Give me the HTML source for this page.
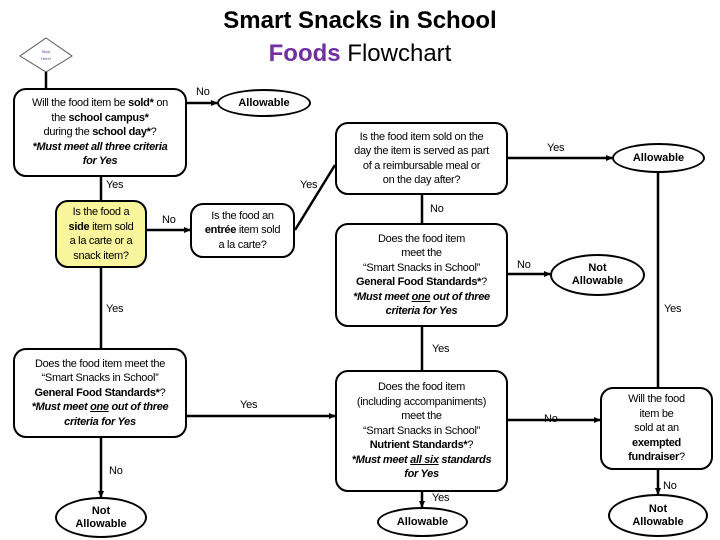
<!DOCTYPE html>
<html><head><meta charset="utf-8"><style>
body{margin:0;width:720px;height:540px;background:#fff;position:relative;overflow:hidden;font-family:"Liberation Sans Narrow","Liberation Sans",sans-serif;color:#000}
.b{position:absolute;border:2.5px solid #000;border-radius:13px;box-sizing:border-box;display:flex;align-items:center;justify-content:center;text-align:center;font-size:11px;line-height:14.5px;letter-spacing:-0.3px;background:#fff}
.e{position:absolute;border:2.5px solid #000;border-radius:50%;box-sizing:border-box;display:flex;align-items:center;justify-content:center;text-align:center;font-size:11px;line-height:13px;font-weight:bold;background:#fff}
.b>div,.e>div{display:block}
.l{position:absolute;font-size:11px;letter-spacing:-0.2px}
svg{position:absolute;left:0;top:0}
</style></head><body>
<svg width="720" height="540">
<defs><marker id="a" markerUnits="userSpaceOnUse" markerWidth="7" markerHeight="7" refX="6" refY="3.5" orient="auto"><path d="M0,0.5L7,3.5L0,6.5z"/></marker></defs>
<g stroke="#000" stroke-width="2.5" fill="none">
<polygon points="46,38 72,56 46,72 20,56" stroke-width="1" stroke="#555"/>
<line x1="46" y1="72" x2="46" y2="88"/>
<line x1="187" y1="103" x2="217" y2="103" marker-end="url(#a)"/>
<line x1="101" y1="177" x2="101" y2="200"/>
<line x1="147" y1="230" x2="190" y2="230" marker-end="url(#a)"/>
<line x1="295" y1="230" x2="335" y2="165"/>
<line x1="508" y1="158" x2="612" y2="158" marker-end="url(#a)"/>
<line x1="658" y1="173" x2="658" y2="387"/>
<line x1="422" y1="195" x2="422" y2="223"/>
<line x1="508" y1="274" x2="550" y2="274" marker-end="url(#a)"/>
<line x1="422" y1="327" x2="422" y2="370"/>
<line x1="101" y1="268" x2="101" y2="348"/>
<line x1="187" y1="416" x2="335" y2="416" marker-end="url(#a)"/>
<line x1="101" y1="438" x2="101" y2="497" marker-end="url(#a)"/>
<line x1="508" y1="420" x2="600" y2="420" marker-end="url(#a)"/>
<line x1="422" y1="492" x2="422" y2="507" marker-end="url(#a)"/>
<line x1="658" y1="470" x2="658" y2="494" marker-end="url(#a)"/>
</g>
<text x="46" y="53" font-size="4" fill="#7030a0" text-anchor="middle">Start</text>
<text x="46" y="60" font-size="4" fill="#7030a0" text-anchor="middle">Here!</text>
</svg>
<div style="position:absolute;left:150px;width:420px;top:4px;text-align:center;font-family:'Liberation Sans Narrow','Liberation Sans',sans-serif;font-size:24px;line-height:33px"><b>Smart Snacks in School</b><br><b style="color:#7030a0">Foods</b> Flowchart</div>

<div class="b" style="left:13px;top:88px;width:174px;height:89px"><div>Will the food item be <b>sold*</b> on<br>the <b>school campus*</b><br>during the <b>school day*</b>?<br><b><i>*Must meet all three criteria<br>for Yes</i></b></div></div>
<div class="e" style="left:217px;top:89px;width:94px;height:28px"><div>Allowable</div></div>
<div class="b" style="left:55px;top:200px;width:92px;height:68px;background:#f9f59c"><div>Is the food a<br><b>side</b> item sold<br>a la carte or a<br>snack item?</div></div>
<div class="b" style="left:190px;top:203px;width:105px;height:55px"><div>Is the food an<br><b>entrée</b> item sold<br>a la carte?</div></div>
<div class="b" style="left:335px;top:122px;width:173px;height:73px"><div>Is the food item sold on the<br>day the item is served as part<br>of a reimbursable meal or<br>on the day after?</div></div>
<div class="e" style="left:612px;top:143px;width:93px;height:30px"><div>Allowable</div></div>
<div class="b" style="left:335px;top:223px;width:173px;height:104px"><div>Does the food item<br>meet the<br>“Smart Snacks in School”<br><b>General Food Standards*</b>?<br><b><i>*Must meet <u>one</u> out of three<br>criteria for Yes</i></b></div></div>
<div class="e" style="left:550px;top:254px;width:95px;height:42px"><div>Not<br>Allowable</div></div>
<div class="b" style="left:13px;top:348px;width:174px;height:90px"><div>Does the food item meet the<br>“Smart Snacks in School”<br><b>General Food Standards*</b>?<br><b><i>*Must meet <u>one</u> out of three<br>criteria for Yes</i></b></div></div>
<div class="e" style="left:55px;top:497px;width:92px;height:41px"><div>Not<br>Allowable</div></div>
<div class="b" style="left:335px;top:370px;width:173px;height:122px"><div>Does the food item<br>(including accompaniments)<br>meet the<br>“Smart Snacks in School”<br><b>Nutrient Standards*</b>?<br><b><i>*Must meet <u>all six</u> standards<br>for Yes</i></b></div></div>
<div class="e" style="left:377px;top:507px;width:91px;height:30px"><div>Allowable</div></div>
<div class="b" style="left:600px;top:387px;width:113px;height:83px"><div>Will the food<br>item be<br>sold at an<br><b>exempted<br>fundraiser</b>?</div></div>
<div class="e" style="left:608px;top:494px;width:100px;height:43px"><div>Not<br>Allowable</div></div>

<div class="l" style="left:196px;top:86px">No</div>
<div class="l" style="left:106px;top:179px">Yes</div>
<div class="l" style="left:162px;top:214px">No</div>
<div class="l" style="left:300px;top:179px">Yes</div>
<div class="l" style="left:547px;top:142px">Yes</div>
<div class="l" style="left:430px;top:203px">No</div>
<div class="l" style="left:517px;top:259px">No</div>
<div class="l" style="left:664px;top:303px">Yes</div>
<div class="l" style="left:432px;top:343px">Yes</div>
<div class="l" style="left:106px;top:303px">Yes</div>
<div class="l" style="left:240px;top:399px">Yes</div>
<div class="l" style="left:109px;top:465px">No</div>
<div class="l" style="left:544px;top:413px">No</div>
<div class="l" style="left:432px;top:492px">Yes</div>
<div class="l" style="left:663px;top:480px">No</div>
</body></html>
